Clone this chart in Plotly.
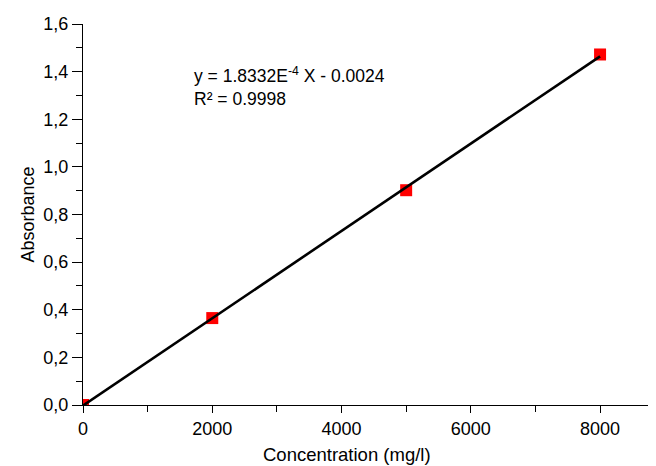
import plotly.graph_objects as go

conc = [0, 2000, 5000, 8000]
absorb = [0.0, 0.365, 0.902, 1.472]
slope = 1.8332e-4
intercept = -0.0024
fit_x = [0, 8000]
fit_y = [slope * x + intercept for x in fit_x]

x_ticks = [0, 2000, 4000, 6000, 8000]
x_labels = ["0", "2000", "4000", "6000", "8000"]
y_ticks = [0.0, 0.2, 0.4, 0.6, 0.8, 1.0, 1.2, 1.4, 1.6]
y_labels = ["0,0", "0,2", "0,4", "0,6", "0,8", "1,0", "1,2", "1,4", "1,6"]

fig = go.Figure()
fig.add_trace(go.Scatter(x=conc, y=absorb, mode="markers",
                         marker=dict(symbol="square", size=12, color="#ff0000",
                                     line=dict(width=0)),
                         showlegend=False))
fig.add_trace(go.Scatter(x=fit_x, y=fit_y, mode="lines",
                         line=dict(color="black", width=2.6),
                         showlegend=False))

font = "Liberation Sans, Arial, sans-serif"
fig.update_layout(
    width=648, height=458,
    margin=dict(l=75, r=1, t=16, b=61),
    plot_bgcolor="white", paper_bgcolor="white",
    font=dict(family=font, color="black", size=17),
    xaxis=dict(range=[0, 8850], tickvals=x_ticks, ticktext=x_labels, automargin=False,
               showgrid=False, zeroline=False, showline=True, linecolor="black",
               linewidth=1.2, ticks="outside", ticklen=7, tickcolor="black",
               minor=dict(dtick=1000, ticks="outside", ticklen=6, tickcolor="black", showgrid=False),
               tickfont=dict(size=18)),
    yaxis=dict(range=[0, 1.6], tickvals=y_ticks, ticktext=y_labels, automargin=False,
               showgrid=False, zeroline=False, showline=True, linecolor="black",
               linewidth=1.2, ticks="outside", ticklen=10, tickcolor="black",
               minor=dict(dtick=0.1, ticks="outside", ticklen=6, tickcolor="black", showgrid=False),
               tickfont=dict(size=18),
               title=dict(text="Absorbance", font=dict(size=18), standoff=3)),
)
fig.add_annotation(x=0.4615, y=-0.1312, xref="paper", yref="paper",
                   text="Concentration (mg/l)", showarrow=False,
                   xanchor="center", yanchor="middle",
                   font=dict(size=18.5, family=font))
fig.add_annotation(x=0.1906, y=0.835, xref="paper", yref="paper",
                   text="y = 1.8332E<sup>-4</sup> X - 0.0024<br>R² = 0.9998",
                   showarrow=False, align="left", xanchor="left", yanchor="middle",
                   font=dict(size=17.5, family=font))
fig.write_html("out.html")
